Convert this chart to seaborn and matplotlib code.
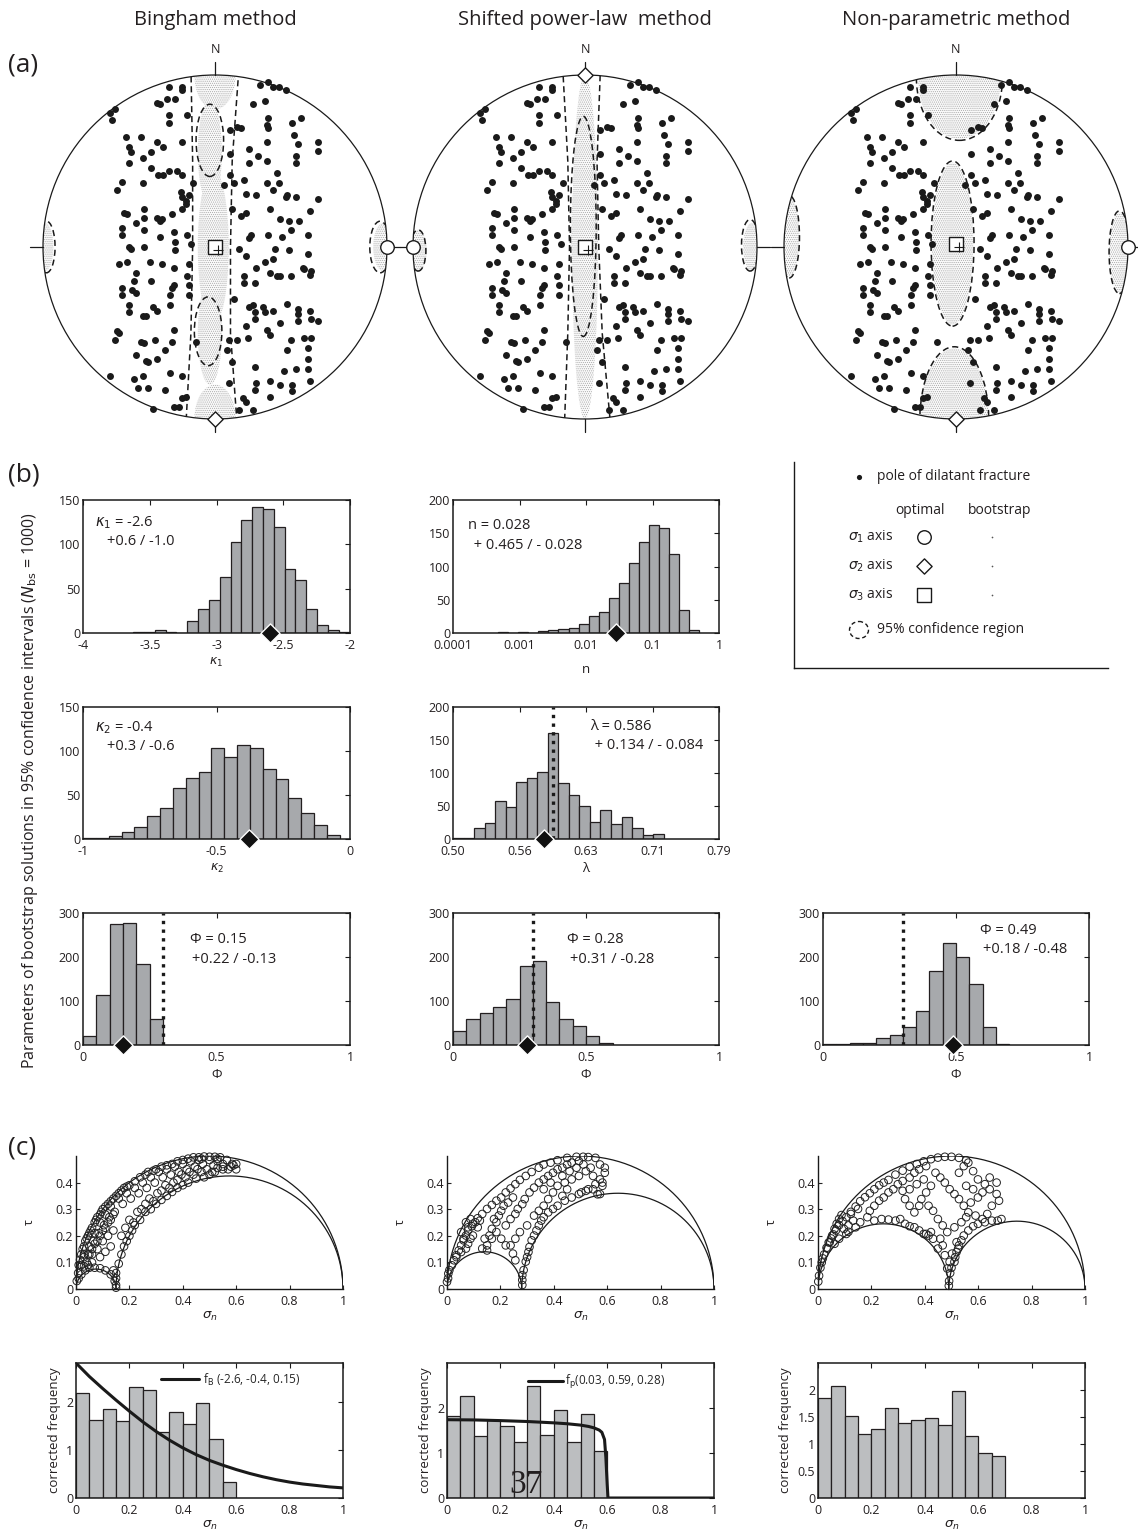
import numpy as np
import pandas as pd
import matplotlib
matplotlib.use("Agg")
import matplotlib.pyplot as plt
from matplotlib.patches import Circle, Ellipse, Polygon
import seaborn as sns

# ============================ DATA ============================
titles = ["Bingham method", "Shifted power-law  method", "Non-parametric method"]

# poles of dilatant fractures (normalised stereonet coordinates, same set in all nets)
poles = [(-0.27,0.93),(-0.19,0.93),(-0.19,0.91),(-0.34,0.84),(-0.32,0.83),(-0.28,0.86),(-0.23,0.86),
(-0.61,0.78),(-0.58,0.80),(-0.60,0.74),(0.26,0.94),(0.31,0.96),(0.34,0.93),(0.37,0.93),(0.41,0.91),
(0.29,0.85),(0.22,0.83),(-0.27,0.77),(-0.27,0.72),(-0.16,0.77),(-0.52,0.64),(-0.43,0.64),(-0.34,0.61),
(-0.30,0.58),(-0.50,0.58),(-0.49,0.55),(-0.42,0.52),(-0.37,0.55),(-0.50,0.49),(-0.19,0.61),(0.15,0.69),
(0.09,0.68),(0.13,0.70),(0.31,0.75),(0.30,0.71),(0.31,0.69),(0.45,0.72),(0.50,0.75),(0.46,0.65),
(0.60,0.61),(0.60,0.56),(0.48,0.60),(0.47,0.53),(0.47,0.49),(0.30,0.61),(0.20,0.57),(0.25,0.53),
(0.30,0.50),(0.20,0.49),(0.09,0.54),(-0.37,0.46),(-0.33,0.42),(-0.30,0.42),(-0.27,0.44),(-0.22,0.44),
(-0.19,0.42),(-0.54,0.38),(-0.57,0.33),(-0.42,0.37),(-0.20,0.32),(-0.13,0.37),(-0.19,0.29),(-0.17,0.27),
(-0.15,0.30),(0.09,0.42),(0.11,0.37),(0.05,0.36),(0.17,0.39),(0.18,0.31),(0.24,0.30),(0.30,0.37),
(0.36,0.43),(0.37,0.37),(0.34,0.33),(0.41,0.29),(0.42,0.30),(0.47,0.29),(0.60,0.28),(-0.53,0.20),
(-0.51,0.19),(-0.41,0.22),(-0.41,0.17),(-0.46,0.14),(-0.34,0.17),(-0.31,0.16),(-0.32,0.15),(-0.25,0.19),
(-0.17,0.25),(-0.19,0.22),(-0.54,0.11),(-0.54,0.07),(-0.41,0.10),(-0.32,0.06),(-0.24,0.09),(-0.16,0.07),
(-0.14,0.02),(0.10,0.22),(0.15,0.18),(0.18,0.20),(0.32,0.22),(0.38,0.16),(0.43,0.15),(0.49,0.15),
(0.55,0.21),(0.20,0.05),(0.21,0.07),(0.31,0.07),(0.39,0.06),(0.44,0.10),(0.54,0.07),(-0.50,0.00),
(-0.49,-0.01),(-0.41,0.00),(-0.23,0.03),(-0.23,-0.02),(-0.56,-0.10),(-0.51,-0.09),(-0.46,-0.15),
(-0.38,-0.09),(-0.31,-0.10),(-0.24,-0.12),(-0.15,-0.10),(-0.16,-0.17),(0.14,-0.01),(0.18,-0.05),
(0.24,-0.12),(0.29,-0.09),(0.32,-0.15),(0.34,-0.07),(0.36,-0.17),(0.38,-0.17),(0.44,-0.17),(0.51,-0.12),
(0.52,-0.13),(0.56,-0.14),(0.55,-0.16),(0.17,-0.17),(0.17,-0.21),(0.23,-0.21),(0.35,-0.01),(0.43,-0.02),
(0.54,-0.04),(-0.54,-0.24),(-0.54,-0.28),(-0.48,-0.25),(-0.46,-0.27),(-0.47,-0.20),(-0.37,-0.20),
(-0.24,-0.22),(-0.25,-0.24),(-0.26,-0.28),(-0.15,-0.22),(-0.15,-0.28),(-0.50,-0.34),(-0.50,-0.38),
(-0.42,-0.40),(-0.40,-0.40),(-0.36,-0.35),(-0.34,-0.37),(-0.26,-0.34),(0.11,-0.30),(0.20,-0.35),
(0.22,-0.34),(0.23,-0.38),(0.29,-0.38),(0.28,-0.35),(0.34,-0.37),(0.42,-0.33),(0.48,-0.36),(0.48,-0.39),
(0.55,-0.37),(0.56,-0.42),(0.60,-0.43),(0.48,-0.43),(0.38,-0.44),(-0.57,-0.49),(-0.56,-0.50),
(-0.58,-0.54),(-0.43,-0.55),(-0.41,-0.56),(-0.35,-0.54),(-0.24,-0.48),(-0.25,-0.55),(-0.29,-0.60),
(-0.46,-0.63),(-0.40,-0.66),(-0.39,-0.67),(-0.34,-0.65),(-0.11,-0.55),(0.08,-0.54),(0.13,-0.54),
(0.07,-0.60),(0.18,-0.46),(0.19,-0.53),(0.23,-0.42),(0.30,-0.48),(0.32,-0.51),(0.44,-0.54),(0.52,-0.53),
(0.56,-0.53),(0.54,-0.59),(0.54,-0.65),(0.42,-0.60),(-0.61,-0.75),(-0.47,-0.77),(-0.42,-0.75),
(-0.45,-0.82),(-0.39,-0.82),(-0.29,-0.83),(-0.26,-0.73),(-0.19,-0.75),(-0.17,-0.87),(-0.19,-0.88),
(-0.24,-0.93),(-0.21,-0.93),(-0.36,-0.94),(0.10,-0.67),(0.08,-0.79),(0.23,-0.70),(0.24,-0.79),
(0.23,-0.83),(0.32,-0.78),(0.38,-0.80),(0.40,-0.72),(0.45,-0.80),(0.45,-0.84),(0.47,-0.71),(0.54,-0.71),
(0.55,-0.78),(0.32,-0.87),(0.16,-0.88),(0.18,-0.90),(0.22,-0.95),(0.14,-0.95)]

# optimal principal axes in each net (sigma1, sigma2, sigma3)
sig1_pos = [(1.0, 0.0), (-1.0, 0.0), (1.0, 0.0)]
sig2_pos = [(0.0, -1.0), (0.0, 1.0), (0.0, -1.0)]
sig3_pos = [(0.0, 0.0), (0.0, 0.0), (0.0, 0.02)]

# bootstrap clouds / 95% confidence regions: (cx, cy, semi_x, semi_y)
boot_regions = [
    [(-0.01, 0.0, 0.09, 0.45), (-0.03, 0.55, 0.07, 0.3), (-0.03, -0.5, 0.07, 0.3),
     (0.0, 1.0, 0.12, 0.2), (0.0, -1.0, 0.12, 0.2), (-0.99, 0.0, 0.05, 0.14), (0.98, 0.0, 0.06, 0.14)],
    [(0.0, 0.0, 0.075, 1.0), (-0.01, 0.05, 0.07, 0.5), (-0.97, -0.02, 0.05, 0.12), (0.97, 0.0, 0.05, 0.14)],
    [(0.02, 0.98, 0.24, 0.35), (-0.01, -1.0, 0.2, 0.41), (-0.02, 0.02, 0.12, 0.47),
     (0.95, -0.03, 0.06, 0.23), (-0.97, 0.06, 0.06, 0.23)],
]
conf_ellipses = [
    [(-0.03, 0.62, 0.08, 0.21), (-0.04, -0.49, 0.08, 0.2), (-0.98, 0.0, 0.05, 0.15), (0.96, 0.0, 0.06, 0.15)],
    [(-0.01, 0.12, 0.075, 0.64), (-0.97, -0.02, 0.045, 0.12), (0.96, 0.01, 0.05, 0.15)],
    [(0.02, 0.98, 0.25, 0.36), (-0.01, -1.0, 0.2, 0.42), (-0.02, 0.02, 0.125, 0.48),
     (0.95, -0.03, 0.06, 0.24), (-0.97, 0.06, 0.06, 0.24)],
]
conf_bands = [
    [(-0.14, 1.05), (-0.13, 0.5), (-0.13, 0.0), (-0.14, -0.5), (-0.17, -1.05),
     (0.13, -1.05), (0.09, -0.5), (0.09, 0.0), (0.10, 0.5), (0.14, 1.05)],
    [(-0.13, 1.05), (-0.10, 0.5), (-0.09, 0.0), (-0.10, -0.5), (-0.12, -1.05),
     (0.15, -1.05), (0.10, -0.5), (0.08, 0.0), (0.07, 0.5), (0.09, 1.05)],
    None,
]

# ---- (b) bootstrap histograms ----
k1_edges = np.linspace(-3.625, -2.003, 21)
k1_counts = [1, 1, 3, 1, 0, 14, 27, 37, 63, 103, 127, 142, 140, 119, 72, 60, 27, 9, 3, 1]
k1_opt = -2.6

n_log_edges = np.linspace(-3.32, -0.30, 21)
n_counts = [1, 0, 1, 0, 3, 4, 6, 8, 13, 25, 31, 53, 75, 106, 137, 162, 158, 119, 34, 5]
n_opt = 0.028

k2_edges = np.linspace(-1.0, -0.038, 21)
k2_counts = [1, 1, 3, 8, 14, 26, 35, 58, 69, 76, 103, 93, 107, 103, 80, 68, 47, 29, 16, 5]
k2_opt = -0.38

lam_log2_edges = np.linspace(-1.0, -0.472, 21)
lam_counts = [1, 2, 17, 24, 58, 48, 87, 92, 102, 160, 85, 67, 50, 26, 44, 22, 33, 17, 6, 8]
lam_opt = 0.586
lam_true = 0.595

phi_edges = [np.linspace(0, 0.3, 7), np.linspace(0, 0.6, 13), np.linspace(0, 0.7, 15)]
phi_counts = [[20, 113, 274, 277, 184, 60],
              [32, 58, 73, 87, 105, 179, 191, 98, 58, 44, 20, 5],
              [2, 3, 4, 4, 15, 23, 41, 77, 169, 231, 200, 139, 40, 2]]
phi_opt = [0.15, 0.28, 0.49]
phi_true = 0.3
phi_text = [("Φ = 0.15", "+0.22 / -0.13"), ("Φ = 0.28", "+0.31 / -0.28"), ("Φ = 0.49", "+0.18 / -0.48")]

# ---- (c) Mohr diagrams (sigma_n, tau) ----
mohr_bingham = [(0.003,0.03),(0.008,0.06),(0.01,0.09),(0.015,0.11),(0.02,0.13),(0.025,0.15),(0.03,0.16),(0.035,0.18),
(0.04,0.19),(0.045,0.2),(0.05,0.21),(0.055,0.22),(0.06,0.23),(0.07,0.25),(0.075,0.26),(0.08,0.27),(0.09,0.28),
(0.095,0.29),(0.1,0.3),(0.11,0.31),(0.12,0.32),(0.13,0.33),(0.14,0.34),(0.15,0.35),(0.16,0.36),(0.17,0.37),
(0.18,0.38),(0.19,0.385),(0.2,0.39),(0.22,0.405),(0.24,0.42),(0.26,0.43),(0.27,0.44),(0.29,0.445),(0.3,0.45),
(0.32,0.46),(0.34,0.465),(0.36,0.47),(0.38,0.48),(0.4,0.485),(0.42,0.49),(0.44,0.495),(0.46,0.495),(0.48,0.498),
(0.5,0.497),(0.52,0.497),(0.54,0.495),(0.47,0.49),(0.53,0.49),
(0.02,0.09),(0.03,0.12),(0.045,0.13),(0.05,0.16),(0.065,0.18),(0.07,0.21),(0.085,0.21),(0.09,0.25),(0.105,0.24),
(0.11,0.28),(0.125,0.27),(0.13,0.31),(0.145,0.29),(0.16,0.34),(0.175,0.32),(0.19,0.36),(0.205,0.34),(0.22,0.38),
(0.235,0.36),(0.25,0.4),(0.265,0.38),(0.28,0.42),(0.295,0.4),(0.31,0.44),(0.325,0.42),(0.34,0.45),(0.355,0.43),
(0.37,0.46),(0.385,0.44),(0.4,0.47),(0.415,0.45),(0.43,0.48),(0.445,0.46),(0.46,0.485),(0.475,0.47),(0.5,0.485),
(0.515,0.465),(0.53,0.48),(0.55,0.47),(0.565,0.485),(0.585,0.47),
(0.16,0.095),(0.17,0.13),(0.18,0.16),(0.19,0.18),(0.2,0.2),(0.21,0.22),(0.22,0.24),(0.24,0.26),(0.26,0.29),
(0.28,0.3),(0.3,0.32),(0.32,0.335),(0.34,0.35),(0.36,0.365),(0.38,0.38),(0.4,0.39),(0.42,0.4),(0.45,0.415),
(0.48,0.42),(0.5,0.43),(0.52,0.44),(0.55,0.45),(0.58,0.46),(0.6,0.47),
(0.17,0.2),(0.185,0.23),(0.2,0.26),(0.215,0.25),(0.23,0.29),(0.245,0.3),(0.26,0.32),(0.275,0.34),(0.29,0.33),
(0.305,0.36),(0.32,0.37),(0.335,0.39),(0.35,0.38),(0.365,0.4),(0.38,0.41),(0.395,0.43),(0.41,0.42),(0.425,0.44),
(0.44,0.43),(0.455,0.45),(0.47,0.44),(0.49,0.45),(0.51,0.44),(0.53,0.455),(0.55,0.46),(0.57,0.45),(0.59,0.465),
(0.6,0.45),
(0.03,0.13),(0.04,0.1),(0.05,0.13),(0.06,0.15),(0.07,0.17),(0.08,0.18),(0.09,0.2),(0.1,0.22),(0.11,0.23),
(0.12,0.25),(0.13,0.26),(0.14,0.28),(0.03,0.085),(0.045,0.09),(0.06,0.13),(0.12,0.2),(0.14,0.22),(0.1,0.18),
(0.08,0.15),(0.06,0.1),(0.09,0.12),(0.11,0.14),(0.13,0.16),
(0.01,0.04),(0.02,0.055),(0.035,0.07),(0.05,0.08),(0.07,0.08),(0.09,0.078),(0.11,0.07),(0.13,0.055),
(0.145,0.03),(0.15,0.005),(0.15,0.015),(0.15,0.04),(0.15,0.06),(0.14,0.07)]

mohr_power = [(0.0,0.027),(0.004,0.04),(0.005,0.058),(0.009,0.071),(0.018,0.089),(0.026,0.108),(0.035,0.127),
(0.044,0.145),(0.053,0.164),(0.062,0.183),(0.071,0.201),(0.079,0.22),(0.093,0.236),(0.106,0.251),(0.115,0.266),
(0.132,0.282),(0.15,0.301),(0.168,0.316),(0.185,0.332),(0.203,0.344),(0.22,0.363),(0.238,0.378),(0.256,0.394),
(0.273,0.41),(0.295,0.425),(0.317,0.44),(0.344,0.456),(0.362,0.468),(0.388,0.475),(0.414,0.484),(0.45,0.493),
(0.485,0.497),(0.51,0.497),(0.529,0.496),(0.556,0.493),
(0.035,0.12),(0.053,0.139),(0.071,0.152),(0.079,0.17),(0.088,0.189),(0.097,0.201),(0.062,0.189),(0.053,0.214),
(0.079,0.232),(0.097,0.245),(0.115,0.232),(0.123,0.257),(0.071,0.251),(0.088,0.263),(0.15,0.145),(0.141,0.189),
(0.15,0.164),(0.159,0.201),(0.168,0.226),(0.185,0.251),(0.194,0.276),(0.203,0.294),(0.176,0.263),(0.212,0.313),
(0.229,0.325),(0.247,0.344),(0.22,0.239),(0.238,0.263),(0.256,0.282),(0.265,0.301),(0.282,0.319),(0.291,0.338),
(0.309,0.363),(0.326,0.381),(0.344,0.4),(0.362,0.412),(0.379,0.425),(0.397,0.437),(0.414,0.45),(0.432,0.456),
(0.45,0.468),(0.467,0.475),(0.494,0.481),
(0.282,0.015),(0.282,0.034),(0.282,0.052),(0.287,0.071),(0.295,0.103),(0.3,0.12),(0.305,0.139),(0.309,0.158),
(0.317,0.183),(0.326,0.201),(0.335,0.22),(0.344,0.239),(0.353,0.257),(0.362,0.27),(0.247,0.133),(0.256,0.108),
(0.238,0.164),
(0.379,0.288),(0.397,0.301),(0.414,0.313),(0.441,0.332),(0.467,0.344),(0.494,0.357),(0.52,0.369),(0.547,0.375),
(0.564,0.356),(0.573,0.357),(0.582,0.388),
(0.414,0.388),(0.441,0.4),(0.467,0.412),(0.494,0.425),(0.52,0.443),(0.538,0.456),(0.573,0.468),(0.591,0.437),
(0.573,0.412),(0.556,0.394),(0.529,0.375),(0.503,0.363),(0.45,0.375),(0.432,0.35),(0.397,0.363),(0.379,0.338),
(0.362,0.313),(0.344,0.294),(0.326,0.276),(0.362,0.375),(0.388,0.4),(0.432,0.425),(0.459,0.443),(0.485,0.456),
(0.511,0.468),(0.547,0.425),(0.582,0.4),(0.591,0.456),
(0.203,0.189),(0.22,0.164),(0.256,0.189),(0.273,0.214),(0.3,0.239),(0.185,0.214),(0.168,0.189),(0.132,0.152)]

mohr_nonpar = [(0.001,0.028),(0.004,0.05),(0.009,0.08),(0.014,0.1),(0.018,0.115),(0.023,0.13),(0.032,0.155),
(0.04,0.175),(0.049,0.19),(0.058,0.205),(0.067,0.22),(0.079,0.24),(0.092,0.255),(0.106,0.27),(0.123,0.29),
(0.141,0.31),(0.158,0.33),(0.176,0.345),(0.194,0.36),(0.211,0.375),(0.229,0.39),(0.246,0.4),(0.264,0.41),
(0.29,0.43),(0.317,0.445),(0.343,0.46),(0.37,0.47),(0.396,0.48),(0.423,0.488),(0.449,0.494),(0.475,0.497),
(0.5,0.497),(0.528,0.493),(0.555,0.484),
(0.035,0.152),(0.044,0.176),(0.053,0.201),(0.062,0.226),(0.07,0.245),(0.079,0.263),(0.088,0.278),(0.097,0.226),
(0.106,0.207),(0.114,0.215),(0.079,0.189),(0.062,0.17),(0.114,0.239),(0.132,0.257),(0.141,0.232),(0.158,0.251),
(0.123,0.282),(0.15,0.301),(0.185,0.27),(0.194,0.294),(0.211,0.313),(0.229,0.332),(0.246,0.344),(0.264,0.363),
(0.282,0.375),(0.299,0.394),(0.317,0.406),(0.343,0.419),(0.361,0.437),(0.379,0.45),(0.405,0.462),
(0.211,0.257),(0.238,0.263),(0.264,0.261),(0.29,0.257),(0.308,0.263),(0.326,0.245),(0.343,0.236),(0.361,0.232),
(0.379,0.22),(0.396,0.207),(0.414,0.201),(0.431,0.189),(0.405,0.207),(0.423,0.214),(0.458,0.189),(0.467,0.164),
(0.449,0.152),(0.475,0.127),
(0.49,0.012),(0.491,0.03),(0.495,0.06),(0.5,0.08),(0.511,0.102),(0.514,0.12),(0.519,0.139),(0.525,0.152),
(0.528,0.164),(0.537,0.183),(0.519,0.176),(0.502,0.133),(0.493,0.102),(0.484,0.077),
(0.546,0.201),(0.563,0.22),(0.581,0.236),(0.599,0.245),(0.625,0.251),(0.651,0.257),(0.673,0.257),(0.687,0.263),
(0.528,0.437),(0.546,0.462),(0.563,0.475),(0.581,0.443),(0.599,0.412),(0.625,0.394),(0.643,0.375),(0.669,0.357),
(0.678,0.332),(0.651,0.313),(0.634,0.282),(0.616,0.263),(0.59,0.276),(0.563,0.288),(0.546,0.313),(0.528,0.338),
(0.511,0.357),(0.493,0.375),(0.475,0.4),(0.458,0.419),(0.44,0.437),(0.423,0.388),(0.405,0.363),(0.387,0.338),
(0.379,0.313),(0.361,0.288),(0.343,0.313),(0.326,0.338),(0.317,0.369),(0.343,0.375),(0.37,0.394),(0.396,0.412),
(0.414,0.313),(0.431,0.294),(0.449,0.263),(0.467,0.239),(0.484,0.214),(0.511,0.232),(0.537,0.251),(0.555,0.27),
(0.572,0.325),(0.599,0.344),(0.616,0.363),(0.643,0.419),(0.669,0.4),(0.555,0.388),(0.581,0.375)]
mohr_sets = [mohr_bingham, mohr_power, mohr_nonpar]
mohr_phi = [0.15, 0.28, 0.49]

# ---- corrected frequency histograms ----
cf_edges = [np.linspace(0, 0.6, 13), np.linspace(0, 0.6, 13), np.linspace(0, 0.7, 15)]
cf_values = [[2.17, 1.62, 1.85, 1.60, 2.31, 2.23, 1.36, 1.78, 1.54, 1.97, 1.22, 0.33],
             [1.83, 2.26, 1.37, 1.74, 1.61, 1.24, 2.48, 1.39, 1.95, 1.24, 1.87, 1.04],
             [1.86, 2.07, 1.52, 1.19, 1.28, 1.66, 1.39, 1.44, 1.48, 1.36, 1.99, 1.15, 0.84, 0.78]]
cf_ylim = [2.8, 3.0, 2.5]
fB_sn = [0, 0.05, 0.1, 0.15, 0.2, 0.25, 0.3, 0.35, 0.4, 0.45, 0.5, 0.55, 0.6, 0.65, 0.7, 0.75, 0.8, 0.85, 0.9, 0.95, 1.0]
fB_val = [2.80, 2.52, 2.27, 2.03, 1.80, 1.58, 1.38, 1.20, 1.04, 0.90, 0.78, 0.68, 0.59, 0.51, 0.44, 0.38, 0.33, 0.29, 0.26, 0.23, 0.21]
fp_sn = [0, 0.1, 0.2, 0.3, 0.4, 0.45, 0.5, 0.53, 0.55, 0.57, 0.58, 0.59, 0.595, 0.6, 0.603, 0.8, 1.0]
fp_val = [1.74, 1.735, 1.72, 1.70, 1.67, 1.65, 1.62, 1.59, 1.56, 1.51, 1.46, 1.30, 0.90, 0.30, 0.0, 0.0, 0.0]

# ============================ STYLE ============================
sns.set_theme(style="white")
plt.rcParams["font.family"] = ["Open Sans", "DejaVu Sans"]
plt.rcParams["mathtext.fontset"] = "dejavusans"
plt.rcParams["axes.unicode_minus"] = False
plt.rcParams["hatch.linewidth"] = 0.5

W, H = 1138, 1539
fig = plt.figure(figsize=(W / 100, H / 100), dpi=100)
TXT = "#231f20"
BAR = "#a7a9ac"
BAR2 = "#bcbec0"


def box(x0, y0, x1, y1):
    return [x0 / W, 1 - y1 / H, (x1 - x0) / W, (y1 - y0) / H]


# ============================ (a) stereonets ============================
pole_df = pd.DataFrame(poles, columns=["x", "y"])
net_cx = [215, 585, 956]
for i in range(3):
    cx, cy, R = net_cx[i], 247, 172
    ax = fig.add_axes(box(cx - 1.1 * R, cy - 1.1 * R, cx + 1.1 * R, cy + 1.1 * R))
    ax.set_xlim(-1.1, 1.1); ax.set_ylim(-1.1, 1.1); ax.set_aspect("equal"); ax.axis("off")
    circ = Circle((0, 0), 1, fill=False, lw=0.9, color="k", zorder=3)
    ax.add_patch(circ)
    for (x0, y0, x1, y1) in [(0, 1, 0, 1.075), (0, -1, 0, -1.075), (1, 0, 1.075, 0), (-1, 0, -1.075, 0)]:
        ax.plot([x0, x1], [y0, y1], color="k", lw=0.9, clip_on=False)
    ax.text(0, 1.11, "N", ha="center", va="bottom", fontsize=9, color=TXT)
    for (ex, ey, sx, sy) in boot_regions[i]:
        e = Ellipse((ex, ey), 2 * sx, 2 * sy, facecolor="#fafafa", edgecolor="#a8a8a8",
                    hatch="........", lw=0, zorder=1)
        ax.add_patch(e); e.set_clip_path(circ)
    for (ex, ey, sx, sy) in conf_ellipses[i]:
        e = Ellipse((ex, ey), 2 * sx, 2 * sy, fill=False, edgecolor="k", ls=(0, (4, 2.5)), lw=1.1, zorder=2)
        ax.add_patch(e); e.set_clip_path(circ)
    if conf_bands[i] is not None:
        p = Polygon(conf_bands[i], closed=True, fill=False, edgecolor="k", ls=(0, (4, 2.5)), lw=1.1, zorder=2)
        ax.add_patch(p); p.set_clip_path(circ)
    sns.scatterplot(data=pole_df, x="x", y="y", ax=ax, color="k", s=25, linewidth=0, legend=False, zorder=4)
    for pos, mk, sz in [(sig1_pos[i], "o", 95), (sig2_pos[i], "D", 60), (sig3_pos[i], "s", 105)]:
        sns.scatterplot(x=[pos[0]], y=[pos[1]], marker=mk, s=sz, color="white", edgecolor="k",
                        linewidth=1.0, ax=ax, zorder=6, clip_on=False, legend=False)
    sns.scatterplot(x=[sig3_pos[i][0] + 0.02], y=[sig3_pos[i][1] - 0.02], marker="+", s=60, color="k",
                    linewidth=0.8, ax=ax, zorder=7, legend=False)
    ax.set_xlabel(""); ax.set_ylabel("")

for i, t in enumerate(titles):
    fig.text(net_cx[i] / W, 1 - 20 / H, t, ha="center", va="center", fontsize=14.5, color=TXT)
for lab, y in [("(a)", 65), ("(b)", 475), ("(c)", 1148)]:
    fig.text(8 / W, 1 - y / H, lab, ha="left", va="center", fontsize=19, color=TXT)


# ============================ (b) histograms ============================
def style_box(ax, xlim, ylim, xticks, yticks, xtl=None, ytl=None, size=9):
    ax.set_xlim(*xlim); ax.set_ylim(*ylim)
    ax.set_xticks(xticks); ax.set_yticks(yticks)
    if xtl is not None:
        ax.set_xticklabels(xtl)
    if ytl is not None:
        ax.set_yticklabels(ytl)
    for s in ax.spines.values():
        s.set_visible(True); s.set_color("k"); s.set_linewidth(1.1)
    ax.tick_params(direction="in", top=True, right=True, length=3.5, width=0.8,
                   labelsize=size, pad=2, colors="k", labelcolor=TXT)
    ax.tick_params(axis="x", pad=4)
    ax.set_xlabel(""); ax.set_ylabel(""); ax.grid(False)


def hist(ax, edges, counts, color=BAR):
    edges = [float(v) for v in edges]
    centers = [(a + b) / 2 for a, b in zip(edges[:-1], edges[1:])]
    d = pd.DataFrame({"v": centers, "w": [float(c) for c in counts]})
    sns.histplot(data=d, x="v", weights="w", bins=edges, ax=ax, color=color,
                 edgecolor="#231f20", linewidth=0.9, alpha=1)


def opt_marker(ax, x):
    sns.scatterplot(x=[x], y=[0], marker="D", s=95, color="#111", edgecolor="white", linewidth=1.0,
                    ax=ax, zorder=6, clip_on=False, legend=False)


def note(ax, x, y, s, size=10.5):
    ax.text(x, y, s, transform=ax.transAxes, fontsize=size, color=TXT, ha="left", va="center")


# kappa1
ax = fig.add_axes(box(83, 500, 350, 633))
hist(ax, k1_edges, k1_counts)
opt_marker(ax, k1_opt)
style_box(ax, (-4, -2), (0, 150), [-4, -3.5, -3, -2.5, -2], [0, 50, 100, 150],
          ["-4", "-3.5", "-3", "-2.5", "-2"])
ax.set_xlabel(r"$\kappa_1$", fontsize=9, color=TXT, labelpad=3)
note(ax, 0.045, 0.83, r"$\kappa_1$ = -2.6")
note(ax, 0.09, 0.69, "+0.6 / -1.0")

# n (log axis)
ax = fig.add_axes(box(453, 500, 719, 633))
hist(ax, n_log_edges, n_counts)
opt_marker(ax, np.log10(n_opt))
style_box(ax, (-4, 0), (0, 200), [-4, -3, -2, -1, 0], [0, 50, 100, 150, 200],
          ["0.0001", "0.001", "0.01", "0.1", "1"])
ax.set_xlabel("n", fontsize=9.5, color=TXT, labelpad=8)
note(ax, 0.055, 0.81, "n = 0.028")
note(ax, 0.065, 0.66, " + 0.465 / - 0.028")

# kappa2
ax = fig.add_axes(box(83, 707, 350, 839))
hist(ax, k2_edges, k2_counts)
opt_marker(ax, k2_opt)
style_box(ax, (-1, 0), (0, 150), [-1, -0.5, 0], [0, 50, 100, 150], ["-1", "-0.5", "0"])
ax.set_xlabel(r"$\kappa_2$", fontsize=9, color=TXT, labelpad=3)
note(ax, 0.045, 0.84, r"$\kappa_2$ = -0.4")
note(ax, 0.09, 0.70, "+0.3 / -0.6")

# lambda (log2 axis)
ax = fig.add_axes(box(453, 707, 719, 839))
hist(ax, lam_log2_edges, lam_counts)
opt_marker(ax, np.log2(lam_opt))
ax.axvline(np.log2(lam_true), color="k", ls=(0, (1, 1.6)), lw=2.4, zorder=5)
lt = [-1, -5 / 6, -4 / 6, -3 / 6, -2 / 6]
style_box(ax, (-1, -2 / 6), (0, 200), lt, [0, 50, 100, 150, 200], ["%.2f" % (2 ** v) for v in lt])
ax.set_xlabel("λ", fontsize=9.5, color=TXT, labelpad=3)
note(ax, 0.515, 0.85, "λ = 0.586")
note(ax, 0.52, 0.71, " + 0.134 / - 0.084")

# Phi
phi_x = [(83, 350), (453, 719), (823, 1089)]
phi_tx = [(0.40, 0.80, 0.41, 0.65), (0.43, 0.80, 0.44, 0.65), (0.59, 0.87, 0.60, 0.72)]
for i in range(3):
    ax = fig.add_axes(box(phi_x[i][0], 913, phi_x[i][1], 1045))
    hist(ax, phi_edges[i], phi_counts[i])
    ax.axvline(phi_true, color="k", ls=(0, (1, 1.6)), lw=2.4, zorder=5)
    opt_marker(ax, phi_opt[i])
    style_box(ax, (0, 1), (0, 300), [0, 0.5, 1], [0, 100, 200, 300], ["0", "0.5", "1"])
    ax.set_xlabel("Φ", fontsize=9.5, color=TXT, labelpad=3)
    a, b, c, d = phi_tx[i]
    note(ax, a, b, phi_text[i][0])
    note(ax, c, d, phi_text[i][1])

fig.text(30 / W, 1 - 790 / H,
         r"Parameters of bootstrap solutions in 95% confidence intervals ($N_{\rm bs}$ = 1000)",
         rotation=90, ha="center", va="center", fontsize=11.5, color=TXT)

# legend panel
ax = fig.add_axes(box(794, 462, 1108, 668))
ax.set_xlim(794, 1108); ax.set_ylim(668, 462)
ax.set_xticks([]); ax.set_yticks([])
for k, s in ax.spines.items():
    s.set_visible(k in ("left", "bottom")); s.set_color("k"); s.set_linewidth(1.0)
ax.set_facecolor("none")
sns.scatterplot(x=[859], y=[477], color="k", s=14, linewidth=0, ax=ax, legend=False)
ax.text(877, 477, "pole of dilatant fracture", va="center", fontsize=10, color=TXT)
ax.text(895, 511, "optimal", va="center", fontsize=10, color=TXT)
ax.text(968, 511, "bootstrap", va="center", fontsize=10, color=TXT)
for lab, mk, y, sz in [(r"$\sigma_1$ axis", "o", 537, 95), (r"$\sigma_2$ axis", "D", 566, 60),
                       (r"$\sigma_3$ axis", "s", 595, 105)]:
    ax.text(848, y, lab, va="center", fontsize=10, color=TXT)
    sns.scatterplot(x=[924], y=[y], marker=mk, s=sz, color="white", edgecolor="k", linewidth=1.0,
                    ax=ax, legend=False)
    sns.scatterplot(x=[992], y=[y], color="#555", s=1.5, linewidth=0, ax=ax, legend=False)
ax.add_patch(Ellipse((859, 630), 19, 17, fill=False, edgecolor="k", ls=(0, (3, 2)), lw=1.0))
ax.text(877, 630, "95% confidence region", va="center", fontsize=10, color=TXT)
ax.set_xlabel(""); ax.set_ylabel("")

# ============================ (c) Mohr diagrams ============================
mohr_x = [(76, 343), (447, 714), (818, 1085)]
for i in range(3):
    ax = fig.add_axes(box(mohr_x[i][0], 1156, mohr_x[i][1], 1289))
    df = pd.DataFrame(mohr_sets[i], columns=["sn", "tau"])
    phi = mohr_phi[i]
    t = np.linspace(0, np.pi, 200)
    for c, r in [(0.5, 0.5), (phi / 2, phi / 2), ((1 + phi) / 2, (1 - phi) / 2)]:
        ax.plot(c + r * np.cos(t), r * np.sin(t), color="k", lw=0.9)
    sns.scatterplot(data=df, x="sn", y="tau", ax=ax, marker="o", s=30, facecolor="none",
                    edgecolor="#222", linewidth=0.7, legend=False, clip_on=False, zorder=3)
    ax.set_xlim(0, 1); ax.set_ylim(0, 0.5)
    ax.set_xticks([0, 0.2, 0.4, 0.6, 0.8, 1]); ax.set_xticklabels(["0", "0.2", "0.4", "0.6", "0.8", "1"])
    ax.set_yticks([0, 0.1, 0.2, 0.3, 0.4]); ax.set_yticklabels(["0", "0.1", "0.2", "0.3", "0.4"])
    for k, s in ax.spines.items():
        s.set_visible(k in ("left", "bottom")); s.set_color("k"); s.set_linewidth(1.0)
    ax.tick_params(direction="in", length=3, width=0.8, labelsize=9, pad=2, labelcolor=TXT,
                   left=True, bottom=True)
    ax.tick_params(axis="x", pad=4)
    ax.set_xlabel(r"$\sigma_n$", fontsize=9.5, color=TXT, labelpad=2)
    ax.set_ylabel("τ", fontsize=9, color=TXT, labelpad=14)
    ax.grid(False)

# ============================ corrected frequency ============================
cf_ticks = [([0, 1, 2], ["0", "1", "2"]), ([0, 1, 2], ["0", "1", "2"]),
            ([0, 0.5, 1, 1.5, 2], ["0", "0.5", "1", "1.5", "2"])]
for i in range(3):
    ax = fig.add_axes(box(mohr_x[i][0], 1363, mohr_x[i][1], 1498))
    hist(ax, cf_edges[i], cf_values[i], color=BAR2)
    if i == 0:
        sns.lineplot(x=fB_sn, y=fB_val, ax=ax, color="k", lw=2.2, sort=False,
                     label=r"f$_{\rm B}$ (-2.6, -0.4, 0.15)")
        ax.legend(loc="upper left", bbox_to_anchor=(0.29, 0.99), frameon=False, fontsize=8.5,
                  handlelength=3.3, handletextpad=0.3, borderaxespad=0.2)
    elif i == 1:
        sns.lineplot(x=fp_sn, y=fp_val, ax=ax, color="k", lw=2.2, sort=False,
                     label=r"f$_{\rm p}$(0.03, 0.59, 0.28)")
        ax.legend(loc="upper left", bbox_to_anchor=(0.28, 0.97), frameon=False, fontsize=8.5,
                  handlelength=3.0, handletextpad=0.2, borderaxespad=0.1)
    yt, ytl = cf_ticks[i]
    style_box(ax, (0, 1), (0, cf_ylim[i]), [0, 0.2, 0.4, 0.6, 0.8, 1], yt,
              ["0", "0.2", "0.4", "0.6", "0.8", "1"], ytl)
    ax.set_xlabel(r"$\sigma_n$", fontsize=9.5, color=TXT, labelpad=2)
    ax.set_ylabel("corrected frequency", fontsize=9.5, color=TXT, labelpad=4)

fig.text(526 / W, 1 - 1485 / H, "37", ha="center", va="center", fontsize=24,
         family=["Liberation Serif", "DejaVu Serif"], color=TXT)

fig.savefig("out.png", dpi=100)
